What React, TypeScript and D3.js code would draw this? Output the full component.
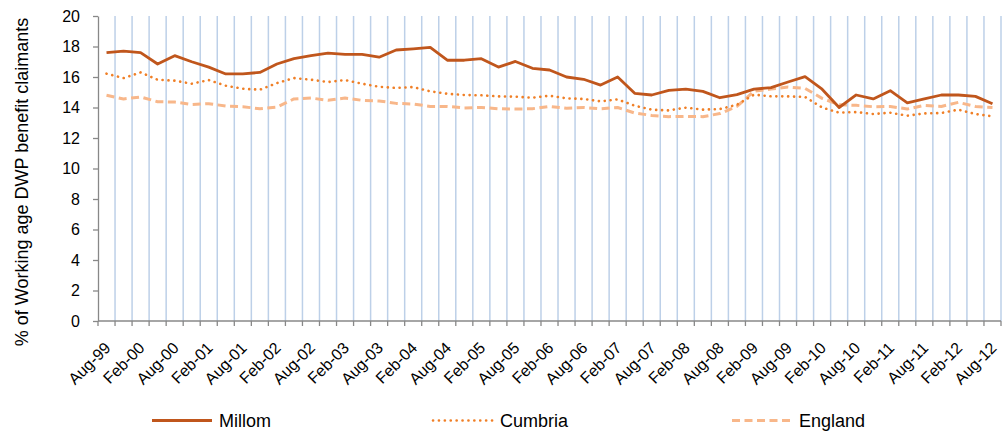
import React, { useEffect, useRef } from "react";
import * as d3 from "d3";

const categories = [
  "Aug-99", "Nov-99", "Feb-00", "May-00", "Aug-00", "Nov-00", "Feb-01", "May-01", "Aug-01", "Nov-01",
  "Feb-02", "May-02", "Aug-02", "Nov-02", "Feb-03", "May-03", "Aug-03", "Nov-03", "Feb-04", "May-04",
  "Aug-04", "Nov-04", "Feb-05", "May-05", "Aug-05", "Nov-05", "Feb-06", "May-06", "Aug-06", "Nov-06",
  "Feb-07", "May-07", "Aug-07", "Nov-07", "Feb-08", "May-08", "Aug-08", "Nov-08", "Feb-09", "May-09",
  "Aug-09", "Nov-09", "Feb-10", "May-10", "Aug-10", "Nov-10", "Feb-11", "May-11", "Aug-11", "Nov-11",
  "Feb-12", "May-12", "Aug-12",
];

const millom = [
  17.6, 17.7, 17.6, 16.85, 17.4, 17.0, 16.65, 16.2, 16.2, 16.3,
  16.85, 17.2, 17.4, 17.57, 17.48, 17.48, 17.3, 17.77, 17.85, 17.94,
  17.1, 17.1, 17.2, 16.65, 17.02, 16.57, 16.46, 16.0, 15.85, 15.47,
  16.0, 14.93, 14.82, 15.12, 15.21, 15.06, 14.64, 14.84, 15.21, 15.3,
  15.67, 16.02, 15.2, 14.0, 14.82, 14.56, 15.1, 14.31, 14.56, 14.82,
  14.82, 14.73, 14.25,
];

const cumbria = [
  16.22, 15.93, 16.3, 15.82, 15.76, 15.56, 15.8, 15.43, 15.23, 15.17,
  15.6, 15.93, 15.82, 15.67, 15.8, 15.56, 15.36, 15.28, 15.34, 15.06,
  14.9, 14.82, 14.8, 14.73, 14.71, 14.64, 14.77, 14.6, 14.56, 14.4,
  14.53, 14.12, 13.86, 13.81, 13.99, 13.86, 13.9, 14.18, 14.84, 14.73,
  14.73, 14.69, 14.0, 13.66, 13.7, 13.57, 13.66, 13.46, 13.61, 13.64,
  13.86, 13.57, 13.42,
];

const england = [
  14.8, 14.56, 14.69, 14.38, 14.36, 14.2, 14.25, 14.1, 14.05, 13.92,
  14.02, 14.56, 14.62, 14.47, 14.62, 14.47, 14.43, 14.27, 14.23, 14.07,
  14.07, 13.97, 14.0, 13.92, 13.9, 13.92, 14.07, 13.95, 14.0, 13.92,
  14.0, 13.64, 13.48, 13.4, 13.42, 13.4, 13.6, 14.07, 15.06, 15.21,
  15.34, 15.25, 14.6, 14.18, 14.14, 14.05, 14.07, 13.9, 14.14, 14.07,
  14.34, 14.07, 14.0,
];

const yTicks = [0, 2, 4, 6, 8, 10, 12, 14, 16, 18, 20];

const series = [
  { name: "Millom", values: millom, color: "#C0561C", width: 2.8, dash: null, cap: "butt" },
  { name: "Cumbria", values: cumbria, color: "#F07F26", width: 2.6, dash: "0.1,5.8", cap: "round" },
  { name: "England", values: england, color: "#F8B78A", width: 3, dash: "8,4.5", cap: "butt" },
];

const font = "'Liberation Sans', Arial, sans-serif";

export default function App() {
  const svgRef = useRef<SVGSVGElement>(null);

  useEffect(() => {
    const width = 1002;
    const height = 432;
    const margin = { top: 16, right: 1, bottom: 111, left: 98 };

    const svg = d3.select(svgRef.current);
    svg.selectAll("*").remove();
    svg.attr("width", width).attr("height", height);

    const x = d3.scaleBand<string>()
      .domain(categories)
      .range([margin.left, width - margin.right])
      .padding(0);

    const y = d3.scaleLinear()
      .domain([0, 20])
      .range([height - margin.bottom, margin.top]);

    const y0 = y(0);

    // vertical gridlines at category boundaries
    const bounds = categories.map((c) => (x(c) as number) + x.bandwidth());
    svg.append("g")
      .selectAll("line")
      .data(bounds)
      .join("line")
      .attr("x1", d => d)
      .attr("x2", d => d)
      .attr("y1", y(20))
      .attr("y2", y0)
      .attr("stroke", "#BDD0E8")
      .attr("stroke-width", 1.5);

    // Y axis
    const yAxis = svg.append("g")
      .attr("transform", `translate(${margin.left},0)`)
      .call(d3.axisLeft(y).tickValues(yTicks).tickSize(5).tickPadding(13).tickSizeOuter(0));
    yAxis.select(".domain").attr("stroke", "#888").attr("stroke-width", 1.3);
    yAxis.selectAll(".tick line").attr("stroke", "#888").attr("stroke-width", 1.3);
    yAxis.selectAll("text")
      .style("font-family", font)
      .style("font-size", "16px")
      .attr("fill", "#000");

    // X axis
    const xg = svg.append("g");
    xg.append("line")
      .attr("x1", margin.left)
      .attr("x2", width - margin.right)
      .attr("y1", y0)
      .attr("y2", y0)
      .attr("stroke", "#888")
      .attr("stroke-width", 1.3);
    xg.selectAll("line.tk")
      .data([margin.left, ...bounds])
      .join("line")
      .attr("class", "tk")
      .attr("x1", d => d)
      .attr("x2", d => d)
      .attr("y1", y0)
      .attr("y2", y0 + 5)
      .attr("stroke", "#888")
      .attr("stroke-width", 1.3);

    xg.selectAll("text")
      .data(categories.filter((_, i) => i % 2 === 0))
      .join("text")
      .attr("transform", d => {
        const cx = (x(d) as number) + x.bandwidth() / 2 + 5;
        return `translate(${cx},${y0 + 28}) rotate(-45)`;
      })
      .attr("text-anchor", "end")
      .style("font-family", font)
      .style("font-size", "16px")
      .attr("fill", "#000")
      .text(d => d);

    // Y label
    svg.append("text")
      .attr("transform", "rotate(-90)")
      .attr("x", -182)
      .attr("y", 28)
      .attr("text-anchor", "middle")
      .style("font-family", font)
      .style("font-size", "18px")
      .attr("fill", "#000")
      .text("% of Working age DWP benefit claimants");

    // Lines
    const line = d3.line<number>()
      .x((_, i) => (x(categories[i]) as number) + x.bandwidth() / 2)
      .y(d => y(d));

    series.slice().reverse().forEach(s => {
      svg.append("path")
        .datum(s.values)
        .attr("d", line)
        .attr("fill", "none")
        .attr("stroke", s.color)
        .attr("stroke-width", s.width)
        .attr("stroke-linecap", s.cap)
        .attr("stroke-linejoin", "round")
        .attr("stroke-dasharray", s.dash);
    });

    // Legend
    const legendX = [152, 433, 732];
    const ly = 420.5;
    series.forEach((s, i) => {
      const g = svg.append("g").attr("transform", `translate(${legendX[i]},${ly})`);
      g.append("line")
        .attr("x1", 0)
        .attr("x2", 60)
        .attr("y1", 0)
        .attr("y2", 0)
        .attr("stroke", s.color)
        .attr("stroke-width", s.width)
        .attr("stroke-linecap", s.cap)
        .attr("stroke-dasharray", s.dash);
      g.append("text")
        .attr("x", 67)
        .attr("y", 6.5)
        .style("font-family", font)
        .style("font-size", "18px")
        .attr("fill", "#000")
        .text(s.name);
    });
  }, []);

  return (
    <div style={{ position: "absolute", left: 0, top: 0 }}>
      <svg ref={svgRef}></svg>
    </div>
  );
}
